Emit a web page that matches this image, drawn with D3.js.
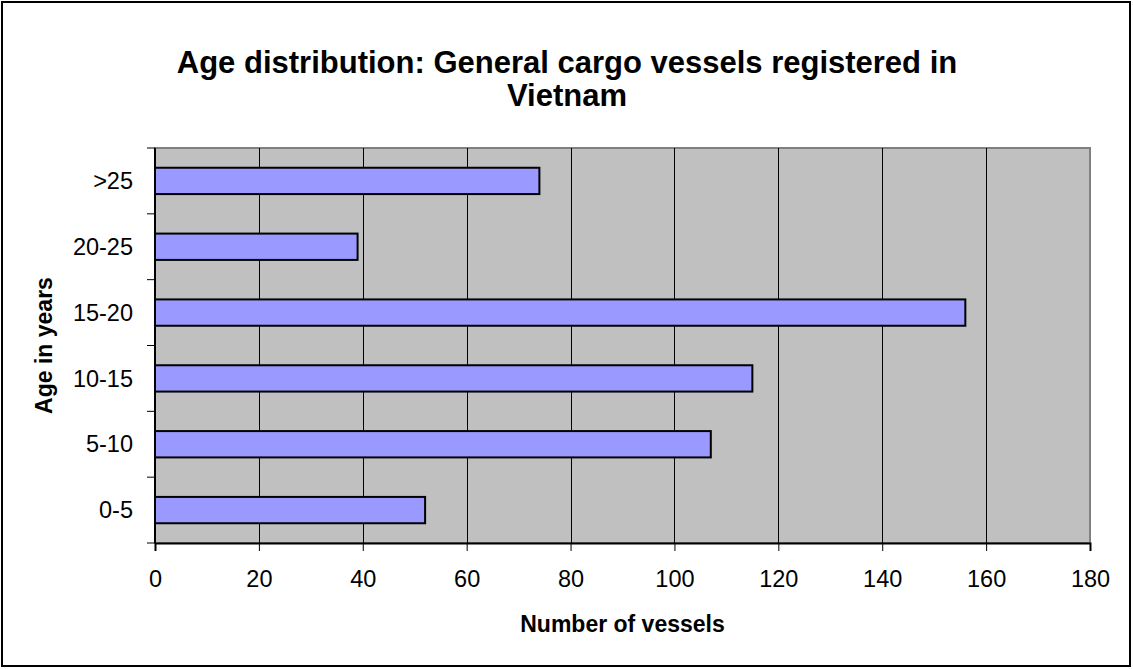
<!DOCTYPE html>
<html>
<head>
<meta charset="utf-8">
<script src="https://cdn.jsdelivr.net/npm/d3@7"></script>
<style>
  body { margin: 0; background: #fff; }
  svg { display: block; font-family: "Liberation Sans", Arial, sans-serif; }
</style>
</head>
<body>
<svg width="1133" height="669"></svg>
<script>
// chart data
const categories = ["0-5", "5-10", "10-15", "15-20", "20-25", ">25"];
const vessels = [52, 107, 115, 156, 39, 74];
const xTicks = [0, 20, 40, 60, 80, 100, 120, 140, 160, 180];

const svg = d3.select("svg"),
    margin = { top: 148, right: 43, bottom: 126, left: 155 },
    width = 1133 - margin.left - margin.right,
    height = 669 - margin.top - margin.bottom;

// outer frame
svg.append("rect")
    .attr("x", 2).attr("y", 2)
    .attr("width", 1128).attr("height", 664)
    .attr("fill", "#fff")
    .attr("stroke", "#000")
    .attr("stroke-width", 2);

const x = d3.scaleLinear().domain([0, 180]).range([0, width]);
const y = d3.scaleBand().domain(categories.slice().reverse()).range([0, height])
    .paddingInner(0.6).paddingOuter(0.3);
const yEdge = d3.scaleBand().domain(categories.slice().reverse()).range([0, height]);

const g = svg.append("g").attr("transform", `translate(${margin.left},${margin.top})`);

// plot background
g.append("rect")
    .attr("width", width).attr("height", height)
    .attr("fill", "#C0C0C0")
    .attr("stroke", "#808080")
    .attr("stroke-width", 2);

// vertical gridlines
g.selectAll(".grid")
    .data(xTicks.slice(1, -1))
    .enter().append("line")
    .attr("x1", d => Math.round(x(d)) + 0.5)
    .attr("x2", d => Math.round(x(d)) + 0.5)
    .attr("y1", 0).attr("y2", height)
    .attr("stroke", "#000")
    .attr("stroke-width", 1);

// bars
g.selectAll(".bar")
    .data(categories)
    .enter().append("rect")
    .attr("x", 0)
    .attr("y", d => y(d))
    .attr("width", (d, i) => x(vessels[i]))
    .attr("height", y.bandwidth())
    .attr("fill", "#9999FF")
    .attr("stroke", "#000")
    .attr("stroke-width", 2);

// x axis
const xAxis = g.append("g")
    .attr("transform", `translate(0,${height})`)
    .call(d3.axisBottom(x).tickValues(xTicks).tickSize(8).tickFormat(d3.format("d")));
xAxis.select(".domain").attr("stroke", "#000").attr("stroke-width", 2);
xAxis.selectAll(".tick line").attr("stroke", "#000");
xAxis.selectAll("text")
    .attr("y", 44).attr("dy", 0)
    .attr("font-size", 23.5).attr("fill", "#000")
    .attr("font-family", "Liberation Sans, Arial, sans-serif");

// y axis: tick marks at category boundaries
const yAxis = g.append("g");
yAxis.append("line")
    .attr("x1", 0).attr("x2", 0)
    .attr("y1", 0).attr("y2", height)
    .attr("stroke", "#000").attr("stroke-width", 2);
const edges = categories.slice().reverse().map(c => yEdge(c)).concat([height]);
yAxis.selectAll(".ytick")
    .data(edges)
    .enter().append("line")
    .attr("x1", -8).attr("x2", 0)
    .attr("y1", d => d).attr("y2", d => d)
    .attr("stroke", "#000").attr("stroke-width", 1);
yAxis.selectAll(".ylabel")
    .data(categories)
    .enter().append("text")
    .attr("x", -22)
    .attr("y", d => yEdge(d) + yEdge.bandwidth() / 2)
    .attr("dy", "0.35em")
    .attr("text-anchor", "end")
    .attr("font-size", 23.5)
    .text(d => d);

// titles
const title = svg.append("text")
    .attr("text-anchor", "middle")
    .attr("font-size", 31)
    .attr("font-weight", "bold");
title.append("tspan").attr("x", 567).attr("y", 73).text("Age distribution: General cargo vessels registered in");
title.append("tspan").attr("x", 567).attr("y", 106).text("Vietnam");

svg.append("text")
    .attr("x", margin.left + width / 2)
    .attr("y", 632)
    .attr("text-anchor", "middle")
    .attr("font-size", 23)
    .attr("font-weight", "bold")
    .text("Number of vessels");

svg.append("text")
    .attr("transform", `translate(52,${margin.top + height / 2}) rotate(-90)`)
    .attr("text-anchor", "middle")
    .attr("font-size", 23)
    .attr("font-weight", "bold")
    .text("Age in years");
</script>
</body>
</html>
